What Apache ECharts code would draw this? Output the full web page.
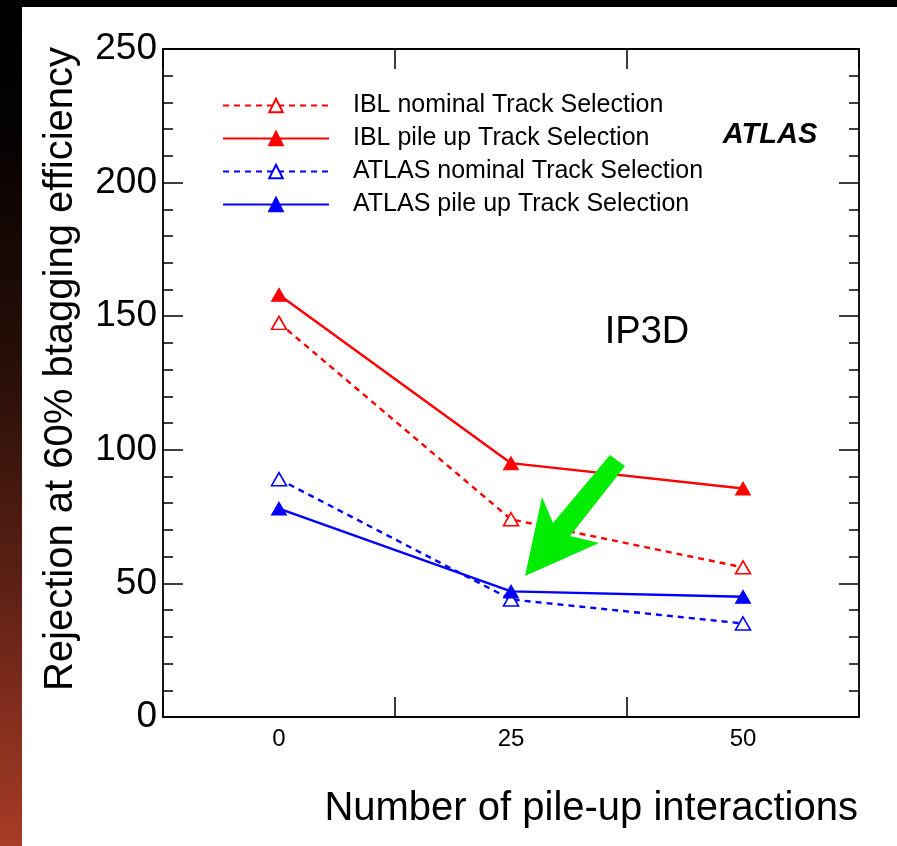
<!DOCTYPE html>
<html>
<head>
<meta charset="utf-8">
<script src="https://cdn.jsdelivr.net/npm/echarts@6/dist/echarts.min.js"></script>
<style>
  html, body { margin: 0; padding: 0; background: #ffffff; }
  #chart { width: 897px; height: 846px; }
</style>
</head>
<body>
<div id="chart"></div>
<script>
// Pile-up scan points (number of pile-up interactions)
const categories = ['0', '25', '50'];

// Light-jet rejection at 60% b-tagging efficiency, IP3D tagger
const iblNominal   = [147.5, 74, 56];
const iblPileup    = [158, 95, 85.5];
const atlasNominal = [89, 44, 35];
const atlasPileup  = [78, 47, 45];

const seriesNames = [
  'IBL nominal Track Selection',
  'IBL pile up Track Selection',
  'ATLAS nominal Track Selection',
  'ATLAS pile up Track Selection'
];

const yMin = 0, yMax = 250, yStep = 50;

const FONT = '"Liberation Sans", Arial, Helvetica, sans-serif';
const RED = '#ff0000';
const BLUE = '#0000ff';

function lineSeries(name, values, color, dashed, hollow) {
  return {
    name: name,
    type: 'line',
    data: values,
    symbol: 'triangle',
    symbolSize: [15, 13],
    showSymbol: true,
    z: hollow ? 3 : 4,
    lineStyle: { color: color, width: 2.4, type: dashed ? [6, 5] : 'solid' },
    itemStyle: hollow
      ? { color: '#ffffff', borderColor: color, borderWidth: 1.6 }
      : { color: color, borderColor: color, borderWidth: 1 },
    emphasis: { disabled: true },
    animation: false
  };
}

const axisLine = { show: true, onZero: false, lineStyle: { color: '#000000', width: 1.8 } };
const tickStyle = { color: '#000000', width: 1.5 };

const chart = echarts.init(document.getElementById('chart'), null, { renderer: 'canvas' });

chart.setOption({
  backgroundColor: '#ffffff',
  animation: false,
  grid: { left: 163, right: 38, top: 49, bottom: 129, containLabel: false },
  legend: {
    orient: 'vertical',
    left: 222,
    top: 93,
    padding: 0,
    itemWidth: 106,
    itemHeight: 17,
    itemGap: 8,
    selectedMode: false,
    data: seriesNames,
    textStyle: { fontFamily: FONT, fontSize: 25, color: '#000000', padding: [0, 0, 0, 19] }
  },
  xAxis: [
    {
      type: 'category',
      data: categories,
      boundaryGap: true,
      position: 'bottom',
      axisLine: axisLine,
      axisTick: { show: true, inside: true, length: 20, lineStyle: tickStyle },
      axisLabel: { show: true, fontFamily: FONT, fontSize: 24, color: '#000000', margin: 10 },
      splitLine: { show: false }
    },
    {
      type: 'category',
      data: categories,
      boundaryGap: true,
      position: 'top',
      axisLine: axisLine,
      axisTick: { show: true, inside: true, length: 20, lineStyle: tickStyle },
      axisLabel: { show: false },
      splitLine: { show: false }
    }
  ],
  yAxis: [
    {
      type: 'value',
      min: yMin, max: yMax, interval: yStep,
      position: 'left',
      axisLine: axisLine,
      axisTick: { show: true, inside: true, length: 20, lineStyle: tickStyle },
      minorTick: { show: true, splitNumber: 5, length: 10, lineStyle: tickStyle },
      axisLabel: { show: true, fontFamily: FONT, fontSize: 37, color: '#000000', margin: 6 },
      splitLine: { show: false }
    },
    {
      type: 'value',
      min: yMin, max: yMax, interval: yStep,
      position: 'right',
      axisLine: axisLine,
      axisTick: { show: true, inside: true, length: 20, lineStyle: tickStyle },
      minorTick: { show: true, splitNumber: 5, length: 10, lineStyle: tickStyle },
      axisLabel: { show: false },
      splitLine: { show: false }
    }
  ],
  series: [
    lineSeries(seriesNames[0], iblNominal, RED, true, true),
    lineSeries(seriesNames[1], iblPileup, RED, false, false),
    lineSeries(seriesNames[2], atlasNominal, BLUE, true, true),
    lineSeries(seriesNames[3], atlasPileup, BLUE, false, false)
  ],
  graphic: [
    // slide frame: black strip on top, dark-to-rust gradient on the left edge
    {
      type: 'rect', z: 100, silent: true,
      shape: { x: 0, y: 0, width: 897, height: 7 },
      style: { fill: '#000000' }
    },
    {
      type: 'rect', z: 100, silent: true,
      shape: { x: 0, y: 0, width: 22, height: 846 },
      style: {
        fill: new echarts.graphic.LinearGradient(0, 0, 0, 1, [
          { offset: 0, color: '#000000' },
          { offset: 0.15, color: '#040101' },
          { offset: 0.45, color: '#2a1009' },
          { offset: 0.7, color: '#5e2115' },
          { offset: 1, color: '#a83c27' }
        ])
      }
    },
    // axis titles
    {
      type: 'text', z: 100, silent: true,
      x: 61, y: 369, rotation: Math.PI / 2,
      style: {
        text: 'Rejection at 60% btagging efficiency',
        fontFamily: FONT, fontSize: 40, fill: '#000000',
        textAlign: 'center', textVerticalAlign: 'middle'
      }
    },
    {
      type: 'text', z: 100, silent: true,
      x: 858, y: 809,
      style: {
        text: 'Number of pile-up interactions',
        fontFamily: FONT, fontSize: 40, fill: '#000000',
        textAlign: 'right', textVerticalAlign: 'middle'
      }
    },
    // plot annotations
    {
      type: 'text', z: 100, silent: true,
      x: 770, y: 135,
      style: {
        text: 'ATLAS',
        fontFamily: FONT, fontSize: 29, fontWeight: 'bold', fontStyle: 'italic', fill: '#000000',
        textAlign: 'center', textVerticalAlign: 'middle'
      }
    },
    {
      type: 'text', z: 100, silent: true,
      x: 647, y: 333,
      style: {
        text: 'IP3D',
        fontFamily: FONT, fontSize: 38, fill: '#000000',
        textAlign: 'center', textVerticalAlign: 'middle'
      }
    },
    // green pointer arrow
    {
      type: 'polygon', z: 100, silent: true,
      shape: {
        points: [[610, 455], [625, 466], [570, 536], [599, 543], [525, 576], [542, 497], [553, 523]]
      },
      style: { fill: '#00ec00' }
    }
  ]
});
</script>
</body>
</html>
